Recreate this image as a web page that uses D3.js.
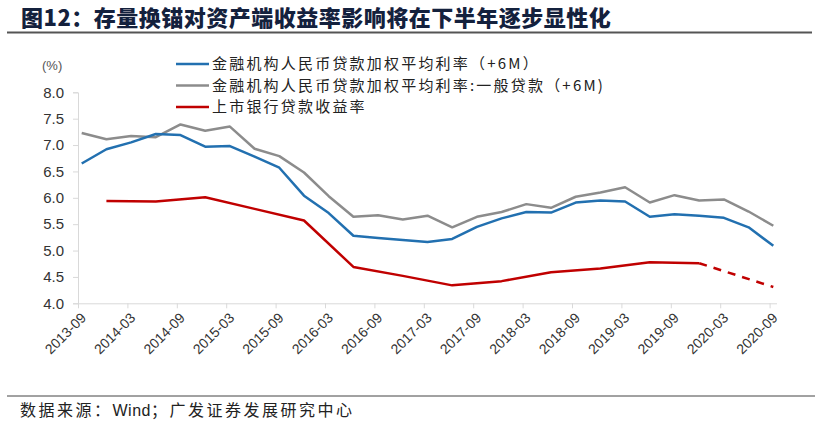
<!DOCTYPE html>
<html>
<head>
<meta charset="utf-8">
<script src="https://cdn.jsdelivr.net/npm/d3@7"></script>
<style>
body{margin:0;background:#fff;}
svg{display:block;}
</style>
</head>
<body>
<div id="chart"></div>
<script>
// quarterly observations, 2013-09 .. 2020-09
var quarters=['2013-09','2013-12','2014-03','2014-06','2014-09','2014-12','2015-03','2015-06','2015-09','2015-12',
	'2016-03','2016-06','2016-09','2016-12','2017-03','2017-06','2017-09','2017-12','2018-03','2018-06',
	'2018-09','2018-12','2019-03','2019-06','2019-09','2019-12','2020-03','2020-06','2020-09'];
var tickLabels=quarters.filter(function(q){return /-(03|09)$/.test(q);});

var blue=[6.65,6.92,7.05,7.21,7.19,6.97,6.98,6.78,6.57,6.04,5.71,5.28,5.24,5.20,5.16,5.22,
	5.45,5.61,5.73,5.72,5.91,5.95,5.93,5.64,5.69,5.66,5.62,5.44,5.09];
var grey=[7.23,7.11,7.17,7.15,7.39,7.27,7.35,6.93,6.79,6.48,6.03,5.64,5.67,5.59,5.66,5.44,
	5.64,5.73,5.88,5.81,6.02,6.10,6.20,5.91,6.05,5.95,5.97,5.74,5.47];
// listed banks report half-yearly
var red=[null,5.94,null,5.93,null,6.01,null,5.79,null,5.57,null,4.69,null,4.52,null,4.34,
	null,4.42,null,4.59,null,4.66,null,4.78,null,4.76,null,null,null];
var redEst=[null,null,null,null,null,null,null,null,null,null,null,null,null,null,null,null,
	null,null,null,null,null,null,null,null,null,4.76,null,null,4.31];

var legendNames=['金融机构人民币贷款加权平均利率（+6M）','金融机构人民币贷款加权平均利率:一般贷款（+6M)','上市银行贷款收益率'];
var colors=['#2270b0','#8c8c8c','#c00000'];

var W=815,H=423;
var svg=d3.select('#chart').append('svg').attr('width',W).attr('height',H);
var cjk='"Noto Sans CJK SC","Liberation Sans",sans-serif';
var num='"Liberation Sans",Arial,sans-serif';

// title
svg.append('text').attr('x',21).attr('y',26)
	.style('font-family',cjk).style('font-size','22px').style('font-weight',900).style('letter-spacing','0.5px')
	.attr('fill','#14213d')
	.text('图12：存量换锚对资产端收益率影响将在下半年逐步显性化');
svg.append('line').attr('x1',7).attr('x2',812).attr('y1',32.5).attr('y2',32.5)
	.attr('stroke','#555').attr('stroke-width',2);

var x=d3.scaleLinear().domain([0,quarters.length-1]).range([78,769.6]);
var y=d3.scaleLinear().domain([4,8]).range([303.3,92.3]);
var off=0.15;

// axes
var yAxis=d3.axisLeft(y).tickValues(d3.range(4,8.01,0.5)).tickFormat(d3.format('.1f')).tickSize(5).tickPadding(9);
var gy=svg.append('g').attr('transform','translate(78,0)').call(yAxis);
gy.select('.domain').attr('stroke','#d9d9d9');
gy.selectAll('.tick line').attr('stroke','#d9d9d9');
gy.selectAll('text').style('font-family',num).style('font-size','15px').attr('fill','#333');

var xAxis=d3.axisBottom(x).tickValues(tickLabels.map(function(t){return quarters.indexOf(t);}))
	.tickFormat(function(i){return quarters[i];}).tickSize(5).tickSizeOuter(0);
var gx=svg.append('g').attr('transform','translate(0,303.3)').call(xAxis);
gx.select('.domain').attr('stroke','#d9d9d9').attr('d','M78,0.5H777');
gx.selectAll('.tick line').attr('stroke','#d9d9d9');
gx.selectAll('text').style('font-family',num).style('font-size','14px').attr('fill','#333')
	.attr('text-anchor','end').attr('dy','0.35em').attr('y',0)
	.attr('transform','translate(5,12) rotate(-45)');

svg.append('text').attr('x',42).attr('y',70).style('font-family',num).style('font-size','13px')
	.attr('fill','#555').text('(%)');

// lines
function mk(arr){
	return d3.line().defined(function(d){return d!=null;})
		.x(function(d,i){return x(i+off);}).y(function(d){return y(d);})(arr);
}
function compact(arr){
	// join only the reported points for half-yearly data
	var pts=[];
	arr.forEach(function(d,i){ if(d!=null) pts.push([x(i+off),y(d)]); });
	return d3.line()(pts);
}
svg.append('path').attr('d',mk(grey)).attr('fill','none').attr('stroke',colors[1]).attr('stroke-width',2.5).attr('stroke-linejoin','round');
svg.append('path').attr('d',mk(blue)).attr('fill','none').attr('stroke',colors[0]).attr('stroke-width',2.5).attr('stroke-linejoin','round');
svg.append('path').attr('d',compact(red)).attr('fill','none').attr('stroke',colors[2]).attr('stroke-width',2.5).attr('stroke-linejoin','round');
svg.append('path').attr('d',compact(redEst)).attr('fill','none').attr('stroke',colors[2]).attr('stroke-width',2.5).attr('stroke-dasharray','8,7');

// legend
var lg=svg.append('g');
legendNames.forEach(function(n,k){
	var yy=64+k*21.5;
	lg.append('line').attr('x1',176).attr('x2',209).attr('y1',yy).attr('y2',yy)
		.attr('stroke',colors[k]).attr('stroke-width',2.5);
	lg.append('text').attr('x',212).attr('y',yy).attr('dy','0.36em')
		.style('font-family',cjk).style('font-size','15px').style('letter-spacing','2.2px')
		.attr('fill','#222').text(n);
});

// source
svg.append('line').attr('x1',7).attr('x2',815).attr('y1',396).attr('y2',396).attr('stroke','#444').attr('stroke-width',1);
var src=svg.append('text').attr('x',20).attr('y',416)
	.style('font-family',cjk).style('font-size','16px').style('letter-spacing','2.5px')
	.attr('fill','#222');
src.append('tspan').text('数据来源：');
src.append('tspan').style('font-family',num).style('letter-spacing','0.5px').text('Wind');
src.append('tspan').text('；广发证券发展研究中心');
</script>
</body>
</html>
